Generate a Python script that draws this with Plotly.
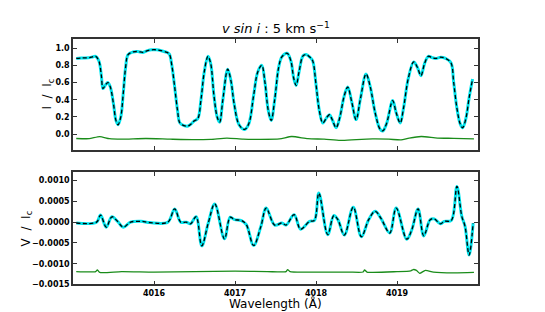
import plotly.graph_objects as go

# ---- Stokes I profile (observed / model) ----
wl_i = [4015.04, 4015.10, 4015.19, 4015.25, 4015.28, 4015.32, 4015.35, 4015.37, 4015.40, 4015.43,
        4015.46, 4015.50, 4015.53, 4015.556, 4015.59, 4015.62, 4015.65, 4015.68, 4015.74, 4015.80,
        4015.864, 4015.92, 4015.97, 4016.03, 4016.09, 4016.16, 4016.19, 4016.22, 4016.255, 4016.29,
        4016.32, 4016.37, 4016.42, 4016.46, 4016.49, 4016.54, 4016.58, 4016.62, 4016.666, 4016.70,
        4016.74, 4016.78, 4016.81, 4016.85, 4016.91, 4016.95, 4016.99, 4017.05, 4017.118, 4017.17,
        4017.23, 4017.28, 4017.33, 4017.37, 4017.41, 4017.447, 4017.49, 4017.54, 4017.58, 4017.644,
        4017.69, 4017.725, 4017.755, 4017.79, 4017.84, 4017.878, 4017.93, 4017.96, 4018.00, 4018.04,
        4018.084, 4018.13, 4018.166, 4018.20, 4018.248, 4018.29, 4018.35, 4018.392, 4018.44, 4018.495,
        4018.55, 4018.618, 4018.67, 4018.73, 4018.79, 4018.824, 4018.87, 4018.947, 4018.99, 4019.04,
        4019.08, 4019.14, 4019.206, 4019.25, 4019.296, 4019.34, 4019.387, 4019.43, 4019.48, 4019.54,
        4019.60, 4019.666, 4019.70, 4019.74, 4019.78, 4019.81, 4019.85, 4019.89, 4019.933]
flux_i = [0.88, 0.885, 0.887, 0.90, 0.905, 0.85, 0.68, 0.53, 0.57, 0.60,
          0.55, 0.35, 0.16, 0.11, 0.20, 0.47, 0.78, 0.925, 0.955, 0.96,
          0.95, 0.97, 0.98, 0.98, 0.97, 0.95, 0.93, 0.80, 0.55, 0.28,
          0.13, 0.10, 0.095, 0.12, 0.15, 0.18, 0.40, 0.72, 0.905, 0.82,
          0.45, 0.20, 0.14, 0.40, 0.755, 0.62, 0.35, 0.11, 0.055, 0.12,
          0.45, 0.72, 0.80, 0.60, 0.28, 0.16, 0.40, 0.78, 0.90, 0.94,
          0.85, 0.65, 0.566, 0.72, 0.91, 0.925, 0.89, 0.85, 0.58, 0.28,
          0.13, 0.19, 0.226, 0.17, 0.075, 0.18, 0.45, 0.547, 0.38, 0.17,
          0.42, 0.70, 0.55, 0.25, 0.06, 0.038, 0.12, 0.39, 0.25, 0.13,
          0.30, 0.65, 0.84, 0.78, 0.68, 0.82, 0.905, 0.89, 0.88, 0.895,
          0.88, 0.83, 0.60, 0.30, 0.12, 0.075, 0.18, 0.42, 0.64]

# ---- Stokes I residual (offset) ----
wl_ri = [4015.04, 4015.20, 4015.33, 4015.45, 4015.60, 4015.90, 4016.20, 4016.50, 4016.70, 4016.90,
         4017.10, 4017.30, 4017.55, 4017.70, 4017.90, 4018.10, 4018.30, 4018.50, 4018.70, 4018.90,
         4019.05, 4019.15, 4019.30, 4019.50, 4019.70, 4019.95]
res_i = [-0.050, -0.052, -0.028, -0.052, -0.057, -0.050, -0.058, -0.064, -0.060, -0.045,
         -0.058, -0.060, -0.055, -0.027, -0.052, -0.058, -0.072, -0.062, -0.055, -0.058,
         -0.066, -0.045, -0.027, -0.045, -0.048, -0.055]

# ---- Stokes V profile ----
wl_v = [4015.04, 4015.29, 4015.34, 4015.41, 4015.48, 4015.55, 4015.62, 4015.71, 4015.84, 4015.95,
        4016.17, 4016.255, 4016.33, 4016.40, 4016.45, 4016.52, 4016.59, 4016.67, 4016.75, 4016.87,
        4016.94, 4016.995, 4017.08, 4017.14, 4017.23, 4017.32, 4017.385, 4017.49, 4017.58, 4017.63,
        4017.73, 4017.81, 4017.92, 4017.98, 4018.035, 4018.145, 4018.22, 4018.27, 4018.35, 4018.46,
        4018.56, 4018.65, 4018.73, 4018.80, 4018.91, 4018.99, 4019.12, 4019.18, 4019.26, 4019.33,
        4019.41, 4019.46, 4019.535, 4019.585, 4019.67, 4019.74, 4019.80, 4019.84, 4019.89, 4019.94]
stokes_v = [-0.00002, 0.0, 0.00017, -0.00012, 0.00013, 0.00002, -0.00012, 0.0, 0.00002, -0.00001,
            0.0, 0.00032, 0.0, 0.0, -0.00004, 0.00013, -0.00057, -0.00002, 0.00044, -0.0004,
            0.00012, 0.00006, 0.00004, -0.00006, -0.00056, -0.0001, 0.00034, -0.00007, -0.00002, -0.00007,
            0.00018, -0.00017, 0.00002, 0.00004, 0.0007, -0.0003, 0.00016, 0.00006, -0.00031, 0.00036,
            -0.00035, 0.00006, 0.00026, 0.0001, -0.00026, 0.00034, -0.00041, -0.0002, 0.00032, -0.00033,
            0.00006, 0.00008, -0.00004, 0.00002, 0.00004, 0.00086, 0.00014, -0.0001, -0.00079, -0.00002]

# ---- Stokes V residual (offset) ----
wl_rv = [4015.04, 4015.28, 4015.30, 4015.33, 4015.60, 4016.00, 4016.50, 4017.00, 4017.40, 4017.63,
         4017.65, 4017.68, 4018.00, 4018.40, 4018.58, 4018.60, 4018.63, 4019.00, 4019.17, 4019.20,
         4019.24, 4019.28, 4019.35, 4019.45, 4019.70, 4019.95]
res_v = [-0.00119, -0.00119, -0.00115, -0.00121, -0.00119, -0.00120, -0.00119, -0.00118, -0.00119, -0.00119,
         -0.00114, -0.00119, -0.00120, -0.00120, -0.00120, -0.00115, -0.00120, -0.00119, -0.00117, -0.00114,
         -0.00116, -0.00123, -0.00116, -0.00120, -0.00122, -0.00121]

x_ticks = [4016, 4017, 4018, 4019]
i_ticks = [0.0, 0.2, 0.4, 0.6, 0.8, 1.0]
v_ticks = [-0.0015, -0.0010, -0.0005, 0.0, 0.0005, 0.0010]

CYAN = "#00e5ee"
GREEN = "#1a8c1a"
FRAME = "#333333"

fig = go.Figure()

def add_panel(x, y, rx, ry, xa, ya):
    fig.add_trace(go.Scatter(x=rx, y=ry, mode="lines", xaxis=xa, yaxis=ya,
                             line=dict(color=GREEN, width=1.3, shape="spline", smoothing=0.6),
                             showlegend=False, hoverinfo="skip"))
    fig.add_trace(go.Scatter(x=x, y=y, mode="lines", xaxis=xa, yaxis=ya,
                             line=dict(color=CYAN, width=3, shape="spline", smoothing=1.0),
                             showlegend=False, hoverinfo="skip"))
    fig.add_trace(go.Scatter(x=x, y=y, mode="lines", xaxis=xa, yaxis=ya,
                             line=dict(color="black", width=1.3, dash="4px,2.5px",
                                       shape="spline", smoothing=1.0),
                             showlegend=False, hoverinfo="skip"))

add_panel(wl_i, flux_i, wl_ri, res_i, "x", "y")
add_panel(wl_v, stokes_v, wl_rv, res_v, "x2", "y2")

tickfont = dict(family="DejaVu Sans", size=8, color="black", weight="bold")
common_axis = dict(showline=True, linecolor=FRAME, linewidth=1.5, mirror="allticks",
                   ticks="inside", ticklen=4, tickwidth=1, tickcolor=FRAME,
                   showgrid=False, zeroline=False, tickfont=tickfont)

xdom = [65 / 545, 470 / 545]
fig.update_layout(
    width=545, height=312,
    margin=dict(l=0, r=0, t=0, b=0),
    paper_bgcolor="white", plot_bgcolor="white",
    xaxis=dict(domain=xdom, anchor="y", range=[4015, 4020], tickvals=x_ticks,
               showticklabels=False, **common_axis),
    yaxis=dict(domain=[1 - 144 / 312, 1 - 32 / 312], anchor="x", range=[-0.18, 1.1],
               tickvals=i_ticks, tickformat=".1f", **common_axis),
    xaxis2=dict(domain=xdom, anchor="y2", range=[4015, 4020], tickvals=x_ticks,
                tickformat="d", **common_axis),
    yaxis2=dict(domain=[1 - 281 / 312, 1 - 167 / 312], anchor="x2", range=[-0.0015, 0.0012],
                tickvals=v_ticks, tickformat=".4f", **common_axis),
)

lab = dict(family="DejaVu Sans", size=12, color="black")
fig.add_annotation(text="<i>v sin i</i> : 5 km s<sup>\u22121</sup>", x=267.5 / 545, y=1 - 20 / 312,
                   xref="paper", yref="paper", showarrow=False, xanchor="center", yanchor="middle",
                   font=dict(family="DejaVu Sans", size=13, color="black"))
fig.add_annotation(text="I  /  I<sub>c</sub>", x=40 / 545, y=1 - 88 / 312, xref="paper", yref="paper",
                   showarrow=False, textangle=-90, xanchor="center", yanchor="middle", font=lab)
fig.add_annotation(text="V  /  I<sub>c</sub>", x=19 / 545, y=1 - 224 / 312, xref="paper", yref="paper",
                   showarrow=False, textangle=-90, xanchor="center", yanchor="middle", font=lab)
fig.add_annotation(text="Wavelength (Å)", x=267.5 / 545, y=1 - 300 / 312, xref="paper", yref="paper",
                   showarrow=False, xanchor="center", yanchor="middle", font=lab)

fig.write_html("out.html")
